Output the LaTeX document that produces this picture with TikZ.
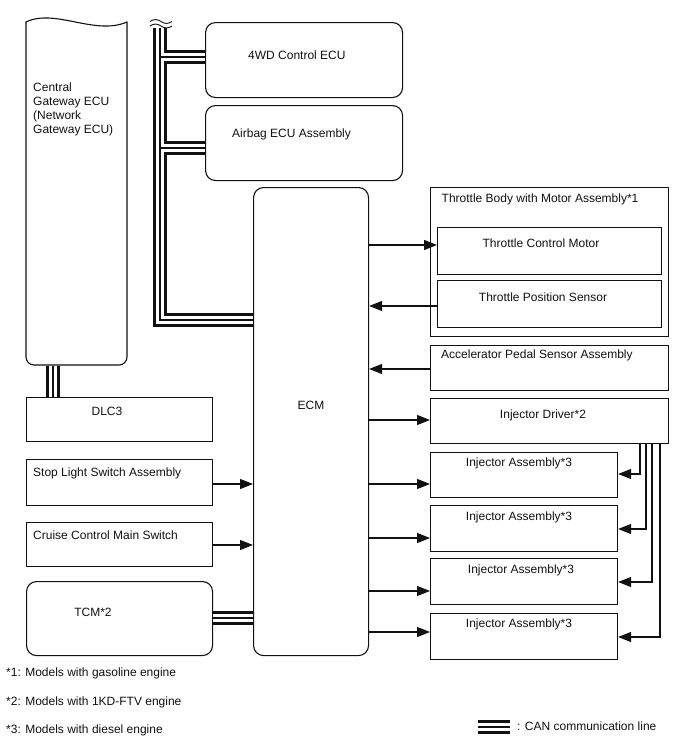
\documentclass[tikz,border=0pt]{standalone}
\usepackage{fontspec}
\setmainfont{Liberation Sans}
\usepackage{xcolor}
\usetikzlibrary{arrows.meta,calc,positioning}
\definecolor{Ink}{HTML}{111111}

\begin{document}
\begin{tikzpicture}[x=1pt,y=-1pt,>={Triangle[length=13pt,width=10pt]},
  box/.style={draw=Ink,line width=1.1pt,anchor=north west,inner sep=0pt},
  ecu/.style={box,rounded corners=10pt},
  lbl/.style={font=\fontsize{12}{14}\selectfont,inner sep=0pt,text height=8.6pt,text depth=0pt,text=Ink},
  sig/.style={draw=Ink,line width=1.1pt,->},
  can/.style={draw=Ink,line width=14pt,
    postaction={draw=white,line width=8pt},
    postaction={draw=Ink,line width=1.3pt}}]
  \useasboundingbox (0,0) rectangle (688,755);

  % gateway with broken top
  \draw[Ink,line width=1.1pt,rounded corners=8pt,line cap=round] (26,22) -- (26,365) -- (127,365) -- (127,22);
  \draw[Ink,line width=1.1pt,line cap=round] (26,22) .. controls (55,8) and (95,36) .. (127,22);
  \node[lbl,anchor=north west,align=left,text height=,text depth=] (cgwT) at (33,82.5)
    {Central\\Gateway ECU\\(Network\\Gateway ECU)};
  \coordinate (cgwB) at (53,365.6);

  % ECUs on the bus
  \node[ecu,minimum width=197pt,minimum height=75pt] (fwd) at (205,22) {};
  \node[ecu,minimum width=197pt,minimum height=75pt] (abg) at (205,105) {};
  \node[ecu,minimum width=115pt,minimum height=468pt] (ecm) at (253,187) {};
  \node[lbl,anchor=west] (fwdT) at (248,55) {4WD Control ECU};
  \node[lbl,anchor=west] (abgT) at (232,133) {Airbag ECU Assembly};
  \node[lbl] (ecmT) at (311,405) {ECM};

  % left column
  \node[box,minimum width=186pt,minimum height=44pt] (dlc) at (26,397) {};
  \node[box,minimum width=186pt,minimum height=46pt] (stp) at (26,459) {};
  \node[box,minimum width=186pt,minimum height=44pt] (ccs) at (26,522) {};
  \node[ecu,minimum width=186pt,minimum height=74pt] (tcm) at (26,581) {};
  \node[lbl] (dlcT) at (107,411) {DLC3};
  \node[lbl,anchor=west] (stpT) at (33,472) {Stop Light Switch Assembly};
  \node[lbl,anchor=west] (ccsT) at (33,535) {Cruise Control Main Switch};
  \node[lbl] (tcmT) at (93,612) {TCM*2};

  % right column
  \node[box,minimum width=238pt,minimum height=149pt] (thb) at (430,187) {};
  \node[box,minimum width=224pt,minimum height=47pt] (mtr) at (437,227) {};
  \node[box,minimum width=224pt,minimum height=47pt] (tps) at (437,280) {};
  \node[box,minimum width=238pt,minimum height=45pt] (aps) at (430,345) {};
  \node[box,minimum width=238pt,minimum height=45pt] (drv) at (430,398) {};
  \node[box,minimum width=187pt,minimum height=45pt] (inj1) at (430,452) {};
  \node[box,minimum width=187pt,minimum height=46pt] (inj2) at (430,505) {};
  \node[box,minimum width=187pt,minimum height=46pt] (inj3) at (430,558) {};
  \node[box,minimum width=187pt,minimum height=46pt] (inj4) at (430,613) {};
  \node[lbl,anchor=west] (thbT) at (441.5,198) {Throttle Body with Motor Assembly*1};
  \node[lbl] (mtrT) at (541,243) {Throttle Control Motor};
  \node[lbl] (tpsT) at (543,297) {Throttle Position Sensor};
  \node[lbl,anchor=west] (apsT) at (441,354) {Accelerator Pedal Sensor Assembly};
  \node[lbl] (drvT) at (543,414) {Injector Driver*2};
  \node[lbl] (inj1T) at (519,462) {Injector Assembly*3};
  \node[lbl] (inj2T) at (519,516) {Injector Assembly*3};
  \node[lbl] (inj3T) at (521,569) {Injector Assembly*3};
  \node[lbl] (inj4T) at (519,623) {Injector Assembly*3};

  % CAN lines
  \coordinate (busT) at (160,28);
  \coordinate (busB) at (160,320);
  \draw[can] (busT) -- (busB) -- (ecm.west |- busB)
    (busT |- 0,57) -- (fwd.west |- 0,57)
    (busT |- 0,148) -- (abg.west |- 0,148)
    (cgwB) -- (dlc.north -| cgwB)
    (tcm.east |- 0,618) -- (ecm.west |- 0,618);
  \draw[Ink,line width=0.9pt] (150,21.5) sin (155.5,19.5) cos (161,21.5) sin (166.5,23.5) cos (172,21.5);
  \draw[Ink,line width=0.9pt] (150,26) sin (155.5,24) cos (161,26) sin (166.5,28) cos (172,26);

  % signal lines
  \draw[sig] (ecm.east |- 0,245) -- (mtr.west |- 0,245);
  \draw[sig] (tps.west |- 0,306) -- (ecm.east |- 0,306);
  \draw[sig] (aps.west |- 0,369) -- (ecm.east |- 0,369);
  \draw[sig] (ecm.east |- 0,420) -- (drv.west |- 0,420);
  \draw[sig] (ecm.east |- 0,484) -- (inj1.west |- 0,484);
  \draw[sig] (ecm.east |- 0,538) -- (inj2.west |- 0,538);
  \draw[sig] (ecm.east |- 0,591) -- (inj3.west |- 0,591);
  \draw[sig] (ecm.east |- 0,632) -- (inj4.west |- 0,632);
  \draw[sig] (stp.east |- 0,484) -- (ecm.west |- 0,484);
  \draw[sig] (ccs.east |- 0,545) -- (ecm.west |- 0,545);
  \draw[sig] (drv.south -| 640,0) |- (inj1.east |- 0,474);
  \draw[sig] (drv.south -| 646,0) |- (inj2.east |- 0,529);
  \draw[sig] (drv.south -| 652,0) |- (inj3.east |- 0,582);
  \draw[sig] (drv.south -| 660,0) |- (inj4.east |- 0,637);

  % notes and legend
  \node[lbl,anchor=west] (note1) at (6,672) {*1: Models with gasoline engine};
  \node[lbl,anchor=west] (note2) at (6,701) {*2: Models with 1KD-FTV engine};
  \node[lbl,anchor=west] (note3) at (6,729) {*3: Models with diesel engine};
  \coordinate (lgA) at (478,727);
  \coordinate (lgB) at (510,727);
  \draw[can] (lgA) -- (lgB);
  \node[lbl,anchor=west] (lgT) at (517,726) {: CAN communication line};
\end{tikzpicture}
\end{document}
